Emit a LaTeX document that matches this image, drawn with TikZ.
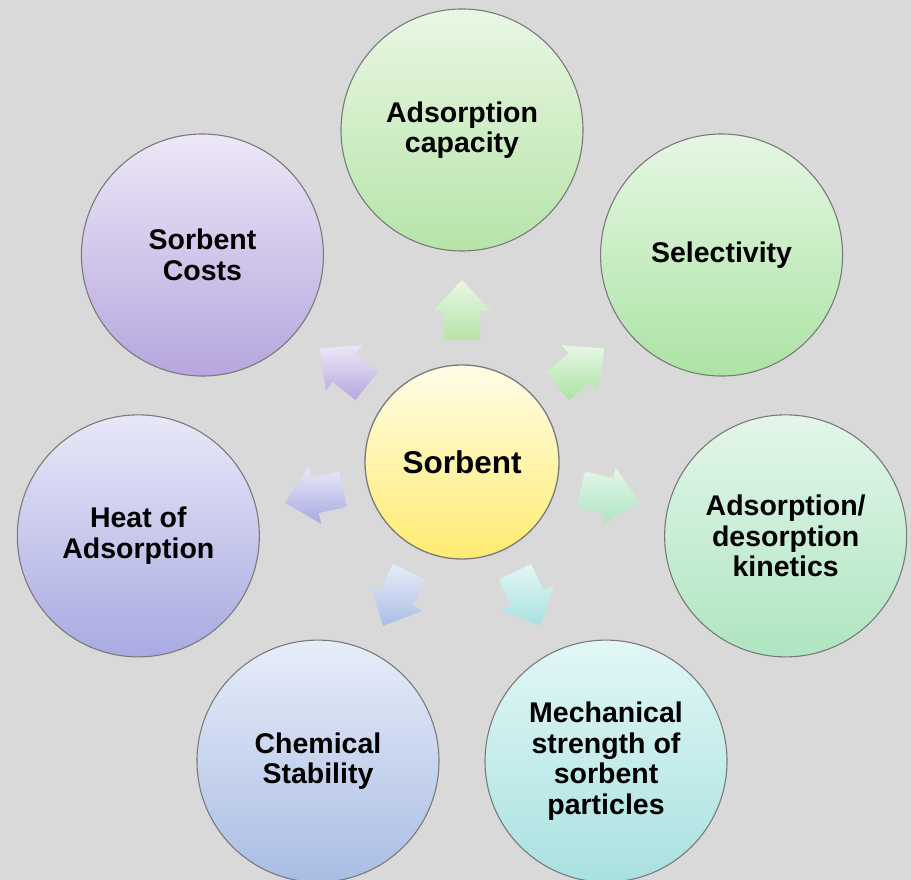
\documentclass[tikz,border=0pt]{standalone}
\usepackage{fontspec}
\setmainfont{Liberation Sans}
\usetikzlibrary{calc}

% gradient pairs (top / bottom) for each property
\definecolor{bg}{HTML}{D9D9D9}
\definecolor{rimgray}{HTML}{7A7A7A}
\definecolor{sorbT}{HTML}{FFFDE8}\definecolor{sorbB}{HTML}{FFEB70}
\definecolor{capT}{HTML}{E9F7E4}\definecolor{capB}{HTML}{B6E4A8}
\definecolor{selT}{HTML}{E6F7E4}\definecolor{selB}{HTML}{ACE3A4}
\definecolor{kinT}{HTML}{E4F6EA}\definecolor{kinB}{HTML}{AEE5C0}
\definecolor{mecT}{HTML}{E2F7F6}\definecolor{mecB}{HTML}{A8E1E0}
\definecolor{chmT}{HTML}{E7EDF9}\definecolor{chmB}{HTML}{A9BDE4}
\definecolor{heaT}{HTML}{E8E8F8}\definecolor{heaB}{HTML}{A9AAE2}
\definecolor{cosT}{HTML}{EDE7F7}\definecolor{cosB}{HTML}{B6A6DE}

\tikzset{
  bubble/.style={circle, draw=rimgray, line width=1.1pt, minimum size=242pt,
    inner sep=0pt, align=center,
    font=\bfseries\fontsize{28.5}{30.5}\selectfont},
  hub/.style={circle, draw=rimgray, line width=1.3pt, minimum size=194pt,
    inner sep=0pt, top color=sorbT, bottom color=sorbB,
    font=\bfseries\fontsize{31.5}{34}\selectfont},
}

\begin{document}
\begin{tikzpicture}[x=1pt, y=1pt]
  \useasboundingbox (0,0) rectangle (911,880);
  \fill[bg] (0,0) rectangle (911,880);

  % central node
  \node[hub] (s) at (462,418) {Sorbent};

  % seven properties arranged on a ring around the centre
  \node[bubble, top color=capT, bottom color=capB] (cap) at ($(s)+(90:332)$)
    {Adsorption\\capacity};
  \node[bubble, top color=selT, bottom color=selB] (sel) at ($(s)+(38.57:332)$)
    {Selectivity};
  \node[bubble, top color=kinT, bottom color=kinB] (kin) at ($(s)+(-12.86:332)$)
    {Adsorption/\\desorption\\kinetics};
  \node[bubble, top color=mecT, bottom color=mecB] (mec) at ($(s)+(-64.29:332)$)
    {Mechanical\\strength of\\sorbent\\particles};
  \node[bubble, top color=chmT, bottom color=chmB] (chm) at ($(s)+(-115.71:332)$)
    {Chemical\\Stability};
  \node[bubble, top color=heaT, bottom color=heaB] (hea) at ($(s)+(-167.14:332)$)
    {Heat of\\Adsorption};
  \node[bubble, top color=cosT, bottom color=cosB] (cos) at ($(s)+(141.43:332)$)
    {Sorbent\\Costs};

  % block arrows pointing outward from the centre
  \foreach \a/\tc/\bc in {90/capT/capB, 38.57/selT/selB, -12.86/kinT/kinB,
      -64.29/mecT/mecB, -115.71/chmT/chmB, -167.14/heaT/heaB, 141.43/cosT/cosB}{
    \path[top color=\tc, bottom color=\bc]
      ($(s)+(\a:122)+(\a+90:18)$) -- ($(s)+(\a:151)+(\a+90:18)$)
      -- ($(s)+(\a:151)+(\a+90:29)$) -- ($(s)+(\a:182)$)
      -- ($(s)+(\a:151)+(\a-90:29)$) -- ($(s)+(\a:151)+(\a-90:18)$)
      -- ($(s)+(\a:122)+(\a-90:18)$) -- cycle;
  }
\end{tikzpicture}
\end{document}
